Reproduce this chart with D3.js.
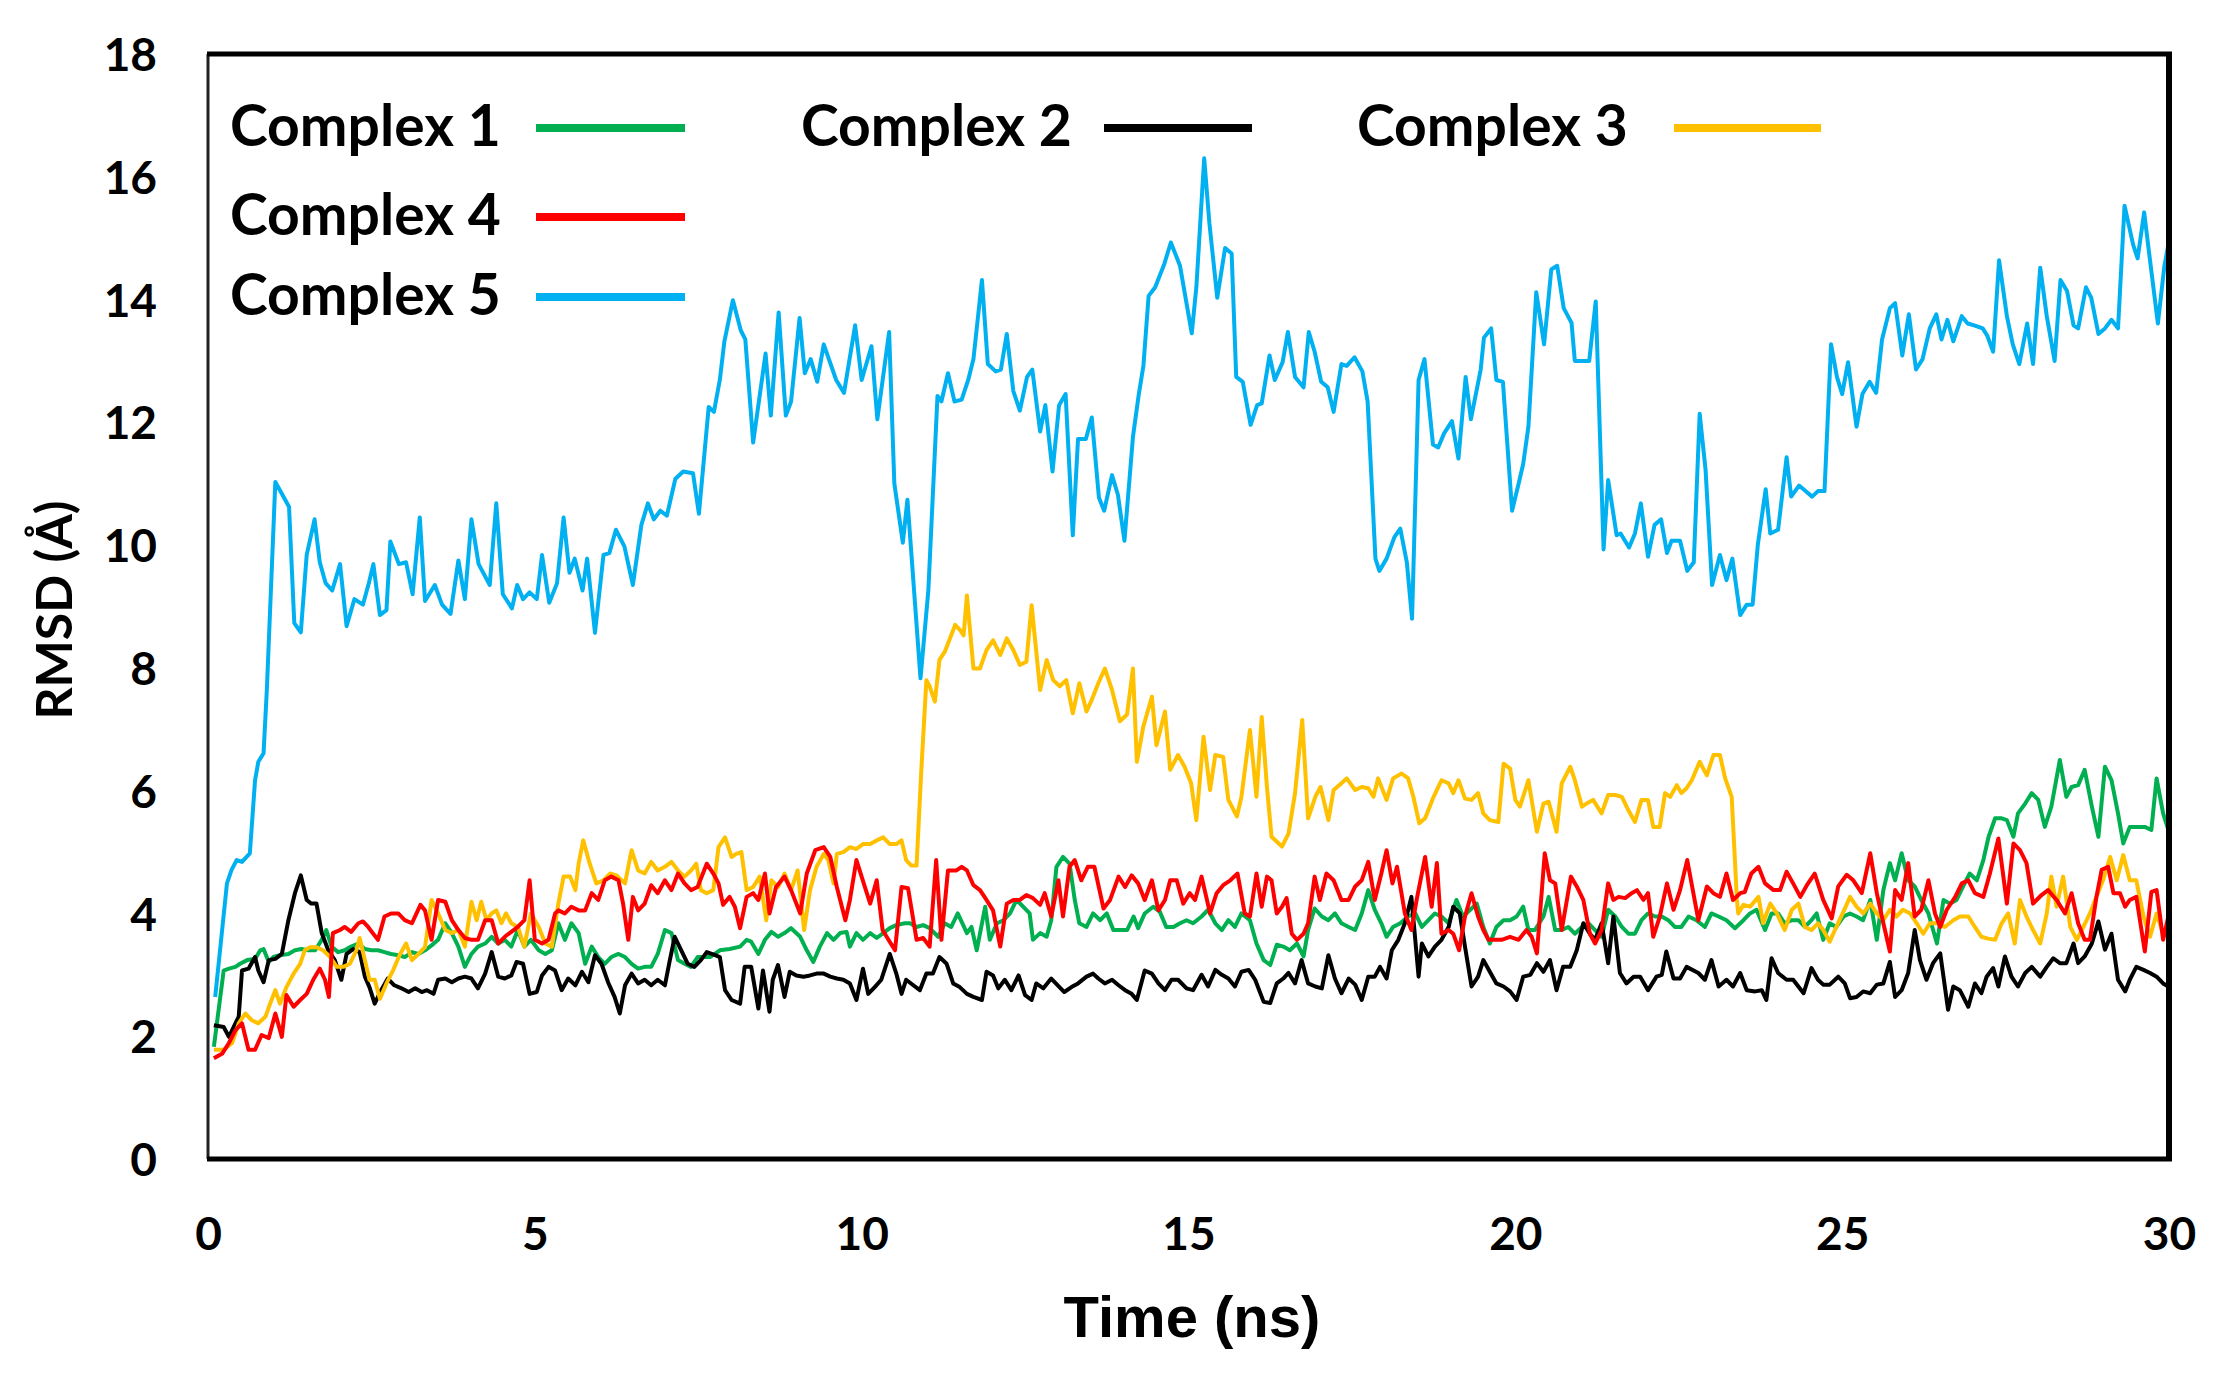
<html>
<head>
<meta charset="utf-8">
<style>
    body { margin: 0; background: white; }
    .tick text { font-family: Lato, "Open Sans", sans-serif; font-weight: 700; font-size: 46px; fill: black; }
    .legend text { font-family: Lato, "Open Sans", sans-serif; font-weight: 700; font-size: 57px; fill: black; }
    .series { fill: none; stroke-width: 4; stroke-linejoin: round; }
</style>
</head>
<body>
<script src="https://cdnjs.cloudflare.com/ajax/libs/d3/7.8.5/d3.min.js"></script>
<script>
    // time in ns, RMSD in angstrom
    var complex1 = [[0.09,1.83],[0.24,3.07],[0.32,3.1],[0.42,3.13],[0.49,3.18],[0.6,3.24],[0.72,3.26],[0.8,3.4],[0.85,3.42],[0.93,3.21],[1.0,3.29],[1.1,3.32],[1.23,3.34],[1.33,3.4],[1.43,3.42],[1.53,3.4],[1.64,3.4],[1.74,3.57],[1.81,3.73],[1.89,3.46],[1.99,3.37],[2.09,3.4],[2.19,3.46],[2.3,3.51],[2.4,3.42],[2.5,3.4],[2.6,3.4],[2.7,3.37],[2.8,3.34],[2.91,3.32],[3.01,3.29],[3.12,3.37],[3.22,3.34],[3.32,3.4],[3.42,3.48],[3.52,3.57],[3.63,3.84],[3.73,3.68],[3.83,3.46],[3.93,3.13],[4.03,3.34],[4.13,3.46],[4.24,3.51],[4.34,3.62],[4.44,3.51],[4.54,3.57],[4.64,3.46],[4.74,3.73],[4.84,3.46],[4.94,3.57],[5.06,3.4],[5.16,3.34],[5.26,3.4],[5.36,3.84],[5.46,3.57],[5.56,3.84],[5.67,3.68],[5.77,3.18],[5.87,3.46],[5.97,3.29],[6.07,3.18],[6.17,3.29],[6.28,3.34],[6.38,3.29],[6.48,3.18],[6.58,3.1],[6.68,3.13],[6.78,3.13],[6.88,3.34],[6.99,3.73],[7.09,3.68],[7.19,3.24],[7.29,3.18],[7.39,3.13],[7.49,3.29],[7.68,3.29],[7.83,3.4],[7.98,3.42],[8.14,3.46],[8.24,3.57],[8.31,3.54],[8.42,3.34],[8.52,3.57],[8.62,3.7],[8.72,3.62],[8.82,3.68],[8.92,3.76],[9.06,3.62],[9.16,3.4],[9.26,3.21],[9.36,3.46],[9.47,3.68],[9.57,3.57],[9.67,3.68],[9.77,3.7],[9.82,3.46],[9.92,3.68],[10.02,3.57],[10.13,3.68],[10.23,3.6],[10.33,3.68],[10.43,3.76],[10.53,3.81],[10.66,3.84],[10.74,3.84],[10.84,3.78],[10.94,3.81],[11.04,3.76],[11.17,3.62],[11.27,3.84],[11.37,3.78],[11.47,4.0],[11.61,3.68],[11.68,3.78],[11.76,3.4],[11.89,4.11],[11.96,3.57],[12.07,3.84],[12.17,3.89],[12.27,4.0],[12.37,4.22],[12.47,4.11],[12.57,4.0],[12.62,3.57],[12.73,3.68],[12.83,3.62],[12.9,3.89],[12.98,4.76],[13.08,4.92],[13.18,4.81],[13.26,4.22],[13.33,3.84],[13.44,3.78],[13.54,4.0],[13.65,3.89],[13.75,4.0],[13.85,3.73],[13.95,3.73],[14.06,3.73],[14.16,3.95],[14.23,3.76],[14.33,4.0],[14.46,4.11],[14.56,4.03],[14.66,3.78],[14.77,3.78],[14.87,3.84],[14.97,3.89],[15.07,3.84],[15.2,3.95],[15.3,4.06],[15.41,3.84],[15.51,3.73],[15.61,3.89],[15.71,3.78],[15.81,4.0],[15.94,3.89],[16.04,3.51],[16.15,3.24],[16.25,3.16],[16.35,3.49],[16.45,3.46],[16.55,3.4],[16.66,3.51],[16.76,3.3],[16.83,3.73],[16.93,4.08],[17.04,3.95],[17.14,3.89],[17.24,4.0],[17.34,3.84],[17.45,3.78],[17.55,3.73],[17.65,4.0],[17.75,4.38],[17.85,4.06],[17.95,3.84],[18.03,3.62],[18.13,3.78],[18.24,3.84],[18.36,3.95],[18.47,4.0],[18.57,3.78],[18.67,3.89],[18.77,4.0],[18.87,3.95],[18.98,3.84],[19.1,4.22],[19.2,3.95],[19.31,4.06],[19.41,4.16],[19.51,3.78],[19.61,3.51],[19.71,3.78],[19.82,3.89],[19.92,3.89],[20.02,3.95],[20.12,4.11],[20.2,3.73],[20.3,3.73],[20.43,3.95],[20.51,4.27],[20.61,3.73],[20.71,3.73],[20.81,3.78],[20.91,3.67],[21.02,3.78],[21.12,3.84],[21.22,3.73],[21.32,3.62],[21.42,4.06],[21.53,3.95],[21.63,3.78],[21.73,3.67],[21.83,3.67],[21.93,3.89],[22.03,4.0],[22.14,3.95],[22.24,3.95],[22.34,3.89],[22.44,3.78],[22.54,3.78],[22.65,3.95],[22.77,3.89],[22.9,3.78],[23.0,4.0],[23.11,3.95],[23.23,3.89],[23.36,3.76],[23.49,3.89],[23.59,4.0],[23.69,4.06],[23.82,3.73],[23.92,4.0],[24.02,4.0],[24.12,3.84],[24.23,3.89],[24.33,3.89],[24.43,3.78],[24.53,3.89],[24.61,4.0],[24.71,3.57],[24.81,3.84],[24.91,3.78],[25.02,3.95],[25.12,4.0],[25.22,3.95],[25.32,3.89],[25.43,4.22],[25.53,3.57],[25.63,4.38],[25.73,4.82],[25.81,4.54],[25.91,4.98],[26.01,4.54],[26.11,4.44],[26.21,4.22],[26.32,4.0],[26.45,3.51],[26.55,4.22],[26.65,4.16],[26.75,4.22],[26.85,4.44],[26.95,4.65],[27.06,4.54],[27.16,4.87],[27.24,5.25],[27.34,5.55],[27.44,5.55],[27.52,5.52],[27.62,5.25],[27.69,5.63],[27.8,5.79],[27.9,5.96],[28.0,5.85],[28.1,5.41],[28.2,5.74],[28.33,6.5],[28.43,5.9],[28.51,6.06],[28.61,6.09],[28.71,6.34],[28.82,5.74],[28.92,5.25],[29.02,6.39],[29.12,6.17],[29.22,5.63],[29.3,5.14],[29.4,5.41],[29.53,5.41],[29.63,5.41],[29.73,5.36],[29.81,6.2],[29.91,5.63],[29.99,5.36]];

    var complex2 = [[0.09,2.18],[0.24,2.15],[0.32,1.99],[0.47,2.32],[0.52,3.07],[0.62,3.1],[0.72,3.29],[0.77,3.07],[0.85,2.88],[0.93,3.24],[1.03,3.26],[1.13,3.34],[1.23,3.89],[1.33,4.33],[1.42,4.62],[1.51,4.22],[1.58,4.16],[1.66,4.16],[1.74,3.68],[1.84,3.4],[1.94,3.24],[2.04,2.92],[2.12,3.34],[2.22,3.42],[2.32,3.37],[2.4,2.97],[2.47,2.8],[2.55,2.53],[2.65,2.75],[2.75,2.94],[2.85,2.83],[2.96,2.78],[3.07,2.72],[3.17,2.78],[3.27,2.72],[3.35,2.75],[3.45,2.69],[3.52,2.92],[3.63,2.94],[3.73,2.88],[3.83,2.94],[3.93,2.97],[4.03,2.94],[4.13,2.78],[4.24,3.02],[4.34,3.37],[4.44,2.97],[4.54,2.94],[4.64,2.99],[4.72,3.21],[4.82,3.18],[4.92,2.69],[5.03,2.72],[5.11,2.99],[5.21,3.13],[5.31,3.07],[5.41,2.75],[5.51,2.94],[5.62,2.83],[5.72,3.05],[5.82,2.88],[5.92,3.32],[6.02,3.18],[6.12,2.88],[6.22,2.64],[6.3,2.37],[6.38,2.83],[6.48,3.02],[6.58,2.86],[6.68,2.92],[6.78,2.83],[6.88,2.92],[6.99,2.83],[7.06,3.21],[7.14,3.62],[7.24,3.4],[7.34,3.18],[7.44,3.13],[7.54,3.24],[7.63,3.37],[7.76,3.32],[7.83,3.29],[7.91,2.75],[8.01,2.59],[8.14,2.53],[8.21,3.13],[8.31,3.13],[8.42,2.45],[8.49,3.07],[8.59,2.4],[8.64,2.92],[8.72,3.16],[8.82,2.64],[8.9,3.05],[9.0,2.99],[9.11,2.97],[9.21,2.99],[9.31,3.02],[9.42,3.02],[9.52,2.97],[9.62,2.94],[9.72,2.92],[9.82,2.86],[9.92,2.59],[10.02,3.1],[10.1,2.69],[10.2,2.8],[10.3,2.92],[10.43,3.34],[10.53,3.02],[10.61,2.69],[10.68,2.92],[10.79,2.83],[10.89,2.75],[10.99,3.02],[11.09,3.02],[11.19,3.29],[11.3,3.18],[11.4,2.86],[11.5,2.8],[11.61,2.69],[11.71,2.64],[11.84,2.59],[11.91,3.05],[12.01,2.99],[12.09,2.78],[12.19,2.92],[12.29,2.75],[12.4,2.99],[12.5,2.67],[12.6,2.59],[12.67,2.86],[12.78,2.78],[12.9,2.94],[13.0,2.83],[13.1,2.72],[13.21,2.8],[13.31,2.86],[13.44,2.97],[13.54,3.02],[13.62,2.94],[13.72,2.86],[13.83,2.92],[13.93,2.83],[14.03,2.75],[14.13,2.69],[14.21,2.59],[14.33,3.07],[14.44,3.02],[14.54,2.86],[14.64,2.75],[14.74,2.92],[14.84,2.92],[14.97,2.78],[15.07,2.75],[15.2,3.0],[15.3,2.81],[15.41,3.08],[15.51,3.0],[15.61,2.94],[15.71,2.81],[15.81,3.05],[15.92,3.08],[16.02,2.92],[16.15,2.56],[16.25,2.54],[16.35,2.86],[16.45,2.94],[16.53,3.03],[16.63,2.86],[16.73,3.24],[16.83,2.86],[16.94,2.81],[17.04,2.78],[17.14,3.32],[17.24,2.94],[17.34,2.7],[17.45,2.94],[17.55,2.84],[17.65,2.59],[17.75,2.97],[17.85,2.97],[17.93,3.13],[18.03,2.94],[18.11,3.4],[18.21,3.57],[18.31,3.84],[18.41,4.27],[18.52,2.97],[18.57,3.51],[18.67,3.3],[18.77,3.46],[18.87,3.57],[18.98,3.78],[19.05,4.11],[19.15,4.0],[19.23,3.46],[19.33,2.81],[19.43,2.97],[19.51,3.24],[19.61,3.05],[19.71,2.86],[19.82,2.81],[19.92,2.73],[20.02,2.59],[20.12,2.97],[20.23,3.0],[20.33,3.19],[20.43,3.05],[20.53,3.24],[20.63,2.75],[20.73,3.13],[20.84,3.13],[20.94,3.4],[21.04,3.84],[21.14,3.67],[21.22,3.57],[21.32,3.84],[21.42,3.19],[21.5,3.95],[21.6,3.03],[21.7,2.86],[21.81,2.97],[21.91,2.97],[22.03,2.75],[22.16,2.97],[22.24,3.0],[22.31,3.38],[22.42,2.94],[22.52,2.94],[22.62,3.13],[22.8,3.03],[22.9,2.92],[23.0,3.24],[23.11,2.81],[23.23,2.92],[23.33,2.81],[23.44,3.03],[23.54,2.75],[23.67,2.73],[23.77,2.75],[23.84,2.59],[23.92,3.27],[24.02,3.03],[24.15,2.92],[24.25,2.92],[24.41,2.7],[24.53,3.11],[24.63,2.92],[24.71,2.84],[24.81,2.84],[24.94,2.97],[25.04,2.86],[25.12,2.62],[25.22,2.64],[25.32,2.73],[25.43,2.7],[25.53,2.84],[25.63,2.86],[25.73,3.21],[25.81,2.64],[25.91,2.75],[26.01,3.03],[26.11,3.73],[26.19,3.24],[26.29,2.92],[26.39,3.19],[26.5,3.35],[26.62,2.43],[26.7,2.81],[26.8,2.75],[26.93,2.48],[27.03,2.86],[27.13,2.7],[27.21,2.97],[27.31,3.11],[27.39,2.81],[27.49,3.3],[27.59,2.97],[27.69,2.81],[27.8,3.03],[27.9,3.13],[28.03,2.97],[28.13,3.13],[28.23,3.27],[28.33,3.19],[28.43,3.19],[28.54,3.51],[28.61,3.19],[28.71,3.3],[28.82,3.51],[28.92,3.87],[29.02,3.41],[29.12,3.67],[29.22,2.92],[29.33,2.73],[29.4,2.92],[29.5,3.13],[29.61,3.08],[29.71,3.03],[29.81,2.97],[29.91,2.86],[29.99,2.81]];

    var complex3 = [[0.09,1.78],[0.24,1.78],[0.37,1.89],[0.47,2.21],[0.57,2.37],[0.67,2.26],[0.77,2.21],[0.88,2.32],[0.95,2.53],[1.03,2.75],[1.1,2.53],[1.2,2.8],[1.31,3.02],[1.41,3.18],[1.48,3.4],[1.56,3.45],[1.66,3.45],[1.76,3.4],[1.87,3.29],[1.97,3.13],[2.07,3.13],[2.17,3.18],[2.27,3.4],[2.32,3.6],[2.4,3.24],[2.47,2.92],[2.55,2.92],[2.63,2.61],[2.73,2.86],[2.83,3.07],[2.93,3.32],[3.03,3.51],[3.12,3.24],[3.22,3.34],[3.32,3.45],[3.42,4.22],[3.52,4.0],[3.63,3.73],[3.73,3.68],[3.83,3.73],[3.93,3.46],[4.03,4.19],[4.11,3.89],[4.18,4.19],[4.26,3.89],[4.34,4.0],[4.41,4.05],[4.49,3.84],[4.56,4.0],[4.64,3.84],[4.74,3.78],[4.84,3.46],[4.94,4.0],[5.06,3.78],[5.16,3.51],[5.26,3.46],[5.36,4.16],[5.44,4.6],[5.54,4.6],[5.62,4.38],[5.67,4.81],[5.74,5.19],[5.84,4.81],[5.94,4.49],[6.05,4.54],[6.15,4.65],[6.25,4.62],[6.38,4.49],[6.48,5.03],[6.58,4.7],[6.68,4.65],[6.78,4.84],[6.88,4.7],[6.99,4.76],[7.09,4.84],[7.19,4.7],[7.29,4.6],[7.39,4.7],[7.47,4.81],[7.54,4.38],[7.63,4.33],[7.73,4.38],[7.81,5.08],[7.91,5.24],[8.01,4.92],[8.08,4.97],[8.16,5.0],[8.24,4.38],[8.34,4.43],[8.44,4.6],[8.54,3.89],[8.62,4.54],[8.72,4.43],[8.82,4.65],[8.92,4.38],[9.02,4.7],[9.12,3.73],[9.21,4.38],[9.31,4.76],[9.42,4.97],[9.49,4.87],[9.57,4.49],[9.62,4.97],[9.72,5.0],[9.82,5.08],[9.92,5.05],[10.02,5.13],[10.13,5.13],[10.23,5.19],[10.33,5.24],[10.43,5.13],[10.53,5.13],[10.61,5.19],[10.68,4.87],[10.76,4.78],[10.84,4.78],[10.91,6.28],[10.99,7.8],[11.04,7.7],[11.12,7.45],[11.19,8.13],[11.27,8.26],[11.34,8.45],[11.43,8.7],[11.51,8.61],[11.56,8.53],[11.61,9.18],[11.71,7.99],[11.81,7.99],[11.91,8.29],[12.01,8.45],[12.12,8.21],[12.22,8.48],[12.32,8.29],[12.42,8.05],[12.52,8.1],[12.6,9.02],[12.73,7.64],[12.83,8.13],[12.93,7.8],[13.03,7.7],[13.13,7.8],[13.23,7.26],[13.33,7.75],[13.44,7.29],[13.52,7.48],[13.62,7.75],[13.72,7.99],[13.83,7.64],[13.95,7.13],[14.06,7.24],[14.15,7.99],[14.21,6.47],[14.31,7.05],[14.44,7.53],[14.51,6.74],[14.64,7.29],[14.72,6.34],[14.84,6.58],[14.94,6.39],[15.04,6.12],[15.12,5.52],[15.23,6.88],[15.33,6.01],[15.41,6.58],[15.53,6.55],[15.61,5.85],[15.74,5.58],[15.81,5.9],[15.94,6.99],[16.04,5.9],[16.12,7.2],[16.2,6.06],[16.27,5.25],[16.43,5.09],[16.53,5.3],[16.63,5.96],[16.74,7.15],[16.83,5.55],[16.94,5.9],[17.02,6.06],[17.14,5.52],[17.22,6.01],[17.34,6.12],[17.42,6.2],[17.55,6.01],[17.65,6.06],[17.75,6.04],[17.83,5.9],[17.9,6.2],[18.03,5.85],[18.13,6.2],[18.26,6.28],[18.36,6.2],[18.44,5.9],[18.53,5.47],[18.62,5.55],[18.75,5.9],[18.87,6.17],[18.98,6.12],[19.05,5.96],[19.13,6.17],[19.23,5.87],[19.33,5.85],[19.43,5.96],[19.51,5.63],[19.61,5.52],[19.74,5.49],[19.82,6.44],[19.92,6.36],[20.0,5.85],[20.07,5.74],[20.2,6.17],[20.33,5.33],[20.43,5.79],[20.51,5.82],[20.63,5.33],[20.71,6.12],[20.84,6.39],[20.91,6.17],[21.02,5.74],[21.09,5.79],[21.19,5.85],[21.32,5.63],[21.42,5.93],[21.53,5.93],[21.63,5.9],[21.73,5.68],[21.83,5.49],[21.93,5.85],[22.03,5.85],[22.11,5.41],[22.21,5.41],[22.29,5.96],[22.37,5.9],[22.47,6.09],[22.54,5.96],[22.62,6.04],[22.7,6.17],[22.82,6.47],[22.93,6.25],[23.03,6.58],[23.13,6.58],[23.21,6.2],[23.31,5.9],[23.39,4.22],[23.41,4.0],[23.49,4.14],[23.59,4.11],[23.72,4.27],[23.79,3.84],[23.9,4.16],[24.0,4.0],[24.12,3.73],[24.23,4.06],[24.33,4.16],[24.43,3.78],[24.53,3.73],[24.63,3.84],[24.71,3.73],[24.81,3.54],[24.91,3.78],[25.02,4.03],[25.12,4.27],[25.22,4.11],[25.32,4.0],[25.43,4.16],[25.53,4.0],[25.63,3.89],[25.73,4.06],[25.83,3.95],[25.93,4.06],[26.04,4.0],[26.14,3.84],[26.24,3.67],[26.34,3.84],[26.47,3.84],[26.57,3.78],[26.7,3.89],[26.8,3.95],[26.93,3.95],[27.03,3.78],[27.13,3.62],[27.23,3.59],[27.34,3.57],[27.44,3.84],[27.54,4.0],[27.64,3.51],[27.72,4.22],[27.82,3.95],[27.92,3.73],[28.03,3.51],[28.13,4.0],[28.2,4.6],[28.28,4.11],[28.38,4.6],[28.49,3.78],[28.59,3.57],[28.69,3.78],[28.79,4.0],[28.87,4.22],[28.99,4.54],[29.1,4.92],[29.2,4.54],[29.3,4.95],[29.4,4.54],[29.5,4.54],[29.61,3.95],[29.71,3.62],[29.81,4.0],[29.91,3.67],[29.99,3.73]];

    var complex4 = [[0.09,1.64],[0.22,1.72],[0.32,1.89],[0.42,2.1],[0.52,2.21],[0.62,1.78],[0.72,1.78],[0.82,2.02],[0.93,1.97],[1.03,2.37],[1.13,1.99],[1.2,2.67],[1.31,2.48],[1.41,2.59],[1.51,2.69],[1.61,2.92],[1.71,3.1],[1.79,2.92],[1.85,2.64],[1.91,3.68],[2.02,3.73],[2.09,3.78],[2.19,3.7],[2.3,3.84],[2.37,3.87],[2.45,3.78],[2.52,3.68],[2.6,3.57],[2.7,3.95],[2.8,4.0],[2.91,4.0],[3.01,3.89],[3.12,3.84],[3.25,4.14],[3.32,4.05],[3.42,3.57],[3.52,4.22],[3.63,4.19],[3.73,3.89],[3.83,3.73],[3.93,3.6],[4.03,3.57],[4.13,3.57],[4.24,3.89],[4.34,3.89],[4.44,3.51],[4.54,3.62],[4.64,3.7],[4.74,3.78],[4.84,3.89],[4.92,4.54],[5.0,3.57],[5.11,3.51],[5.21,3.57],[5.31,4.0],[5.36,4.05],[5.46,4.0],[5.56,4.11],[5.67,4.05],[5.77,4.05],[5.87,4.33],[5.97,4.22],[6.07,4.54],[6.17,4.6],[6.28,4.54],[6.35,4.16],[6.43,3.57],[6.5,4.27],[6.58,4.05],[6.68,4.16],[6.78,4.46],[6.88,4.33],[6.99,4.54],[7.09,4.38],[7.19,4.65],[7.29,4.49],[7.39,4.38],[7.49,4.43],[7.63,4.81],[7.73,4.65],[7.81,4.49],[7.88,4.14],[7.98,4.27],[8.06,4.11],[8.14,3.76],[8.24,4.27],[8.34,4.33],[8.42,4.22],[8.52,4.65],[8.59,4.0],[8.69,4.43],[8.82,4.6],[8.92,4.38],[9.06,4.0],[9.16,4.65],[9.29,5.03],[9.42,5.08],[9.52,4.92],[9.62,4.43],[9.75,3.89],[9.82,4.22],[9.92,4.87],[10.05,4.43],[10.13,4.16],[10.23,4.54],[10.32,3.73],[10.41,3.57],[10.51,3.4],[10.61,4.43],[10.71,4.41],[10.84,3.57],[10.94,3.6],[11.04,3.46],[11.14,4.87],[11.22,3.57],[11.32,4.7],[11.45,4.7],[11.53,4.76],[11.61,4.7],[11.71,4.46],[11.81,4.38],[11.91,4.22],[12.01,4.05],[12.12,3.46],[12.22,4.16],[12.32,4.22],[12.42,4.22],[12.52,4.3],[12.62,4.25],[12.73,4.14],[12.8,4.33],[12.9,3.95],[13.01,4.54],[13.08,3.95],[13.18,4.76],[13.26,4.87],[13.36,4.54],[13.46,4.76],[13.56,4.76],[13.7,4.08],[13.8,4.22],[13.93,4.6],[14.03,4.43],[14.13,4.62],[14.23,4.49],[14.33,4.22],[14.44,4.54],[14.54,4.05],[14.64,4.22],[14.72,4.54],[14.82,4.54],[14.92,4.16],[15.02,4.33],[15.1,4.22],[15.2,4.6],[15.33,4.0],[15.43,4.33],[15.53,4.46],[15.64,4.54],[15.75,4.65],[15.86,4.0],[15.94,3.95],[16.04,4.65],[16.12,4.11],[16.2,4.6],[16.27,4.54],[16.35,4.0],[16.43,4.11],[16.5,4.25],[16.58,3.67],[16.66,3.57],[16.76,3.67],[16.83,3.84],[16.93,4.6],[17.01,4.22],[17.11,4.65],[17.22,4.54],[17.34,4.22],[17.45,4.22],[17.55,4.44],[17.65,4.54],[17.75,4.84],[17.85,4.22],[17.95,4.65],[18.03,5.03],[18.12,4.49],[18.19,4.76],[18.31,4.0],[18.41,3.73],[18.49,4.22],[18.62,4.92],[18.72,4.11],[18.8,4.82],[18.87,3.67],[18.98,3.73],[19.05,3.67],[19.14,3.4],[19.23,3.95],[19.33,4.33],[19.43,3.95],[19.51,3.73],[19.59,3.57],[19.69,3.57],[19.79,3.57],[19.92,3.62],[20.05,3.57],[20.17,3.73],[20.25,3.62],[20.33,3.35],[20.45,4.98],[20.53,4.54],[20.61,4.49],[20.71,3.73],[20.85,4.6],[20.94,4.44],[21.04,4.22],[21.14,3.67],[21.22,3.51],[21.32,3.73],[21.42,4.49],[21.5,4.22],[21.58,4.27],[21.68,4.25],[21.78,4.33],[21.86,4.38],[21.96,4.22],[22.03,4.33],[22.11,3.62],[22.21,3.95],[22.32,4.49],[22.42,4.06],[22.52,4.38],[22.63,4.87],[22.8,3.89],[22.93,4.44],[23.03,4.33],[23.13,4.27],[23.23,4.65],[23.33,4.22],[23.44,4.33],[23.51,4.35],[23.61,4.65],[23.72,4.76],[23.82,4.49],[23.95,4.38],[24.05,4.38],[24.15,4.68],[24.25,4.49],[24.36,4.27],[24.46,4.46],[24.58,4.65],[24.71,4.22],[24.84,3.92],[24.94,4.44],[25.07,4.63],[25.17,4.54],[25.3,4.33],[25.43,4.98],[25.53,4.33],[25.63,3.84],[25.73,3.38],[25.81,4.38],[25.91,4.22],[26.01,4.82],[26.11,3.95],[26.21,4.06],[26.32,4.54],[26.42,4.0],[26.5,3.78],[26.6,4.06],[26.73,4.27],[26.83,4.49],[26.93,4.54],[27.03,4.33],[27.16,4.27],[27.26,4.65],[27.39,5.22],[27.52,4.16],[27.62,5.14],[27.72,5.03],[27.82,4.82],[27.92,4.16],[28.05,4.3],[28.15,4.38],[28.28,4.22],[28.41,4.0],[28.51,4.33],[28.61,3.84],[28.71,3.57],[28.79,3.57],[28.89,4.27],[28.97,4.71],[29.07,4.76],[29.15,4.33],[29.25,4.33],[29.33,4.11],[29.4,4.22],[29.5,4.27],[29.63,3.38],[29.73,4.35],[29.81,4.38],[29.91,3.57],[29.99,3.95]];

    var complex5 = [[0.11,2.64],[0.29,4.49],[0.36,4.71],[0.44,4.87],[0.52,4.84],[0.64,4.98],[0.72,6.17],[0.77,6.47],[0.85,6.61],[0.9,7.64],[1.03,11.03],[1.17,10.76],[1.24,10.62],[1.32,8.73],[1.42,8.58],[1.51,9.84],[1.63,10.42],[1.71,9.72],[1.8,9.38],[1.9,9.26],[2.02,9.69],[2.12,8.68],[2.24,9.12],[2.37,9.03],[2.46,9.38],[2.53,9.69],[2.63,8.86],[2.73,8.94],[2.79,10.06],[2.92,9.69],[3.03,9.72],[3.13,9.2],[3.24,10.45],[3.32,9.09],[3.47,9.35],[3.58,9.03],[3.71,8.88],[3.83,9.75],[3.93,9.12],[4.03,10.42],[4.14,9.69],[4.31,9.35],[4.41,10.68],[4.51,9.2],[4.65,8.97],[4.73,9.35],[4.82,9.12],[4.92,9.23],[5.03,9.12],[5.11,9.84],[5.22,9.06],[5.34,9.38],[5.44,10.45],[5.53,9.55],[5.61,9.78],[5.73,9.26],[5.8,9.78],[5.92,8.57],[6.05,9.84],[6.14,9.87],[6.24,10.25],[6.37,9.98],[6.5,9.35],[6.63,10.33],[6.73,10.68],[6.82,10.42],[6.92,10.56],[7.02,10.48],[7.15,11.08],[7.27,11.2],[7.42,11.17],[7.51,10.51],[7.66,12.25],[7.74,12.17],[7.83,12.69],[7.9,13.32],[8.03,13.99],[8.15,13.5],[8.22,13.35],[8.34,11.67],[8.53,13.12],[8.61,12.11],[8.73,13.79],[8.84,12.11],[8.92,12.34],[9.05,13.7],[9.13,12.8],[9.22,13.03],[9.32,12.66],[9.42,13.27],[9.61,12.69],[9.73,12.48],[9.9,13.58],[10.0,12.69],[10.15,13.24],[10.24,12.05],[10.42,13.47],[10.5,11.0],[10.63,10.04],[10.7,10.74],[10.9,7.83],[11.02,9.26],[11.16,12.43],[11.22,12.34],[11.32,12.8],[11.42,12.34],[11.53,12.37],[11.63,12.69],[11.71,13.03],[11.84,14.32],[11.93,12.95],[12.05,12.83],[12.13,12.86],[12.22,13.44],[12.32,12.51],[12.42,12.19],[12.53,12.74],[12.61,12.86],[12.73,11.85],[12.81,12.28],[12.92,11.2],[13.02,12.28],[13.12,12.46],[13.23,10.16],[13.31,11.73],[13.43,11.73],[13.52,12.08],[13.63,10.77],[13.71,10.56],[13.83,11.14],[13.92,10.82],[14.02,10.07],[14.15,11.76],[14.24,12.46],[14.31,12.92],[14.39,14.06],[14.49,14.2],[14.63,14.58],[14.73,14.93],[14.87,14.55],[15.05,13.45],[15.12,14.2],[15.24,16.3],[15.32,15.24],[15.44,14.03],[15.56,14.84],[15.66,14.75],[15.73,12.74],[15.83,12.66],[15.95,11.96],[16.05,12.28],[16.12,12.31],[16.24,13.09],[16.32,12.69],[16.44,12.98],[16.52,13.47],[16.63,12.74],[16.76,12.57],[16.84,13.47],[16.93,13.15],[17.03,12.66],[17.13,12.57],[17.22,12.17],[17.34,12.95],[17.42,12.92],[17.54,13.06],[17.66,12.83],[17.74,12.34],[17.86,9.78],[17.92,9.58],[18.03,9.78],[18.15,10.13],[18.24,10.27],[18.34,9.72],[18.42,8.8],[18.52,12.69],[18.61,13.03],[18.74,11.64],[18.82,11.59],[18.91,11.82],[19.03,12.02],[19.13,11.41],[19.24,12.74],[19.32,12.05],[19.47,12.86],[19.52,13.38],[19.63,13.53],[19.71,12.69],[19.81,12.66],[19.95,10.56],[20.05,11.0],[20.12,11.32],[20.2,11.93],[20.32,14.12],[20.44,13.27],[20.55,14.49],[20.64,14.55],[20.74,13.86],[20.86,13.62],[20.91,13.0],[21.13,13.0],[21.23,13.97],[21.35,9.93],[21.42,11.06],[21.55,10.16],[21.61,10.19],[21.74,9.96],[21.83,10.19],[21.92,10.68],[22.03,9.81],[22.13,10.33],[22.23,10.42],[22.32,9.87],[22.39,10.07],[22.52,10.07],[22.63,9.58],[22.73,9.72],[22.82,12.14],[22.91,11.23],[23.01,9.35],[23.13,9.84],[23.23,9.43],[23.32,9.78],[23.44,8.86],[23.54,9.03],[23.63,9.03],[23.71,10.01],[23.83,10.91],[23.9,10.19],[24.02,10.25],[24.15,11.43],[24.22,10.79],[24.34,10.97],[24.44,10.88],[24.54,10.79],[24.63,10.88],[24.73,10.88],[24.83,13.27],[24.92,12.74],[25.0,12.46],[25.09,12.98],[25.22,11.93],[25.31,12.46],[25.42,12.66],[25.52,12.48],[25.61,13.35],[25.73,13.86],[25.81,13.94],[25.92,13.09],[26.02,13.76],[26.13,12.86],[26.23,13.03],[26.34,13.53],[26.44,13.76],[26.52,13.35],[26.61,13.67],[26.7,13.32],[26.83,13.73],[26.92,13.61],[27.02,13.58],[27.15,13.53],[27.22,13.41],[27.31,13.15],[27.4,14.64],[27.52,13.73],[27.61,13.27],[27.71,12.95],[27.83,13.61],[27.92,12.95],[28.03,14.52],[28.13,13.73],[28.25,13.0],[28.34,14.32],[28.44,14.14],[28.54,13.58],[28.61,13.53],[28.73,14.2],[28.81,14.03],[28.92,13.44],[29.02,13.53],[29.12,13.67],[29.22,13.53],[29.32,15.53],[29.45,14.9],[29.52,14.67],[29.62,15.42],[29.7,14.72],[29.83,13.61],[29.93,14.55],[30.0,14.95]];

    var seriesNames = ["Complex 1", "Complex 2", "Complex 3", "Complex 4", "Complex 5"];
    var seriesData = [complex1, complex2, complex3, complex4, complex5];
    var seriesColors = ["#00b050", "#000000", "#ffc000", "#ff0000", "#00b0f0"];
    var xTicks = [0, 5, 10, 15, 20, 25, 30];
    var yTicks = [0, 2, 4, 6, 8, 10, 12, 14, 16, 18];

    (function () {

        var width = 2229, height = 1374;
        var plotLeft = 208, plotRight = 2169, plotTop = 54, plotBottom = 1159;

        var svg = d3.select("body")
                .append("svg")
                .attr("width", width)
                .attr("height", height)
                .style("background", "white");

        var x = d3.scaleLinear().domain([0, 30]).range([plotLeft, plotRight]);
        var y = d3.scaleLinear().domain([0, 18]).range([plotBottom, plotTop]);

        // axes: labels only, the frame is drawn by hand below
        var yAxis = svg.append("g")
                .attr("transform", "translate(" + plotLeft + ",0)")
                .call(d3.axisLeft(y).tickValues(yTicks).tickSize(0).tickPadding(51));
        yAxis.select(".domain").remove();
        yAxis.selectAll("text").attr("dy", "0.36em");

        var xAxis = svg.append("g")
                .attr("transform", "translate(0," + plotBottom + ")")
                .call(d3.axisBottom(x).tickValues(xTicks).tickSize(0).tickPadding(58));
        xAxis.select(".domain").remove();

        var line = d3.line()
                .x(function (d) { return x(d[0]); })
                .y(function (d) { return y(d[1]); });

        svg.selectAll(".series")
                .data(seriesData)
                .enter()
                .append("path")
                .classed("series", 1)
                .attr("stroke", function (d, i) { return seriesColors[i]; })
                .attr("d", line);

        // plot frame
        svg.append("line").attr("x1", plotLeft).attr("x2", plotLeft).attr("y1", plotTop).attr("y2", plotBottom)
                .attr("stroke", "#222").attr("stroke-width", 3);
        svg.append("line").attr("x1", plotLeft - 1).attr("x2", plotRight + 3).attr("y1", plotTop).attr("y2", plotTop)
                .attr("stroke", "black").attr("stroke-width", 5);
        svg.append("line").attr("x1", plotLeft - 1).attr("x2", plotRight + 3).attr("y1", plotBottom).attr("y2", plotBottom)
                .attr("stroke", "black").attr("stroke-width", 5);
        svg.append("line").attr("x1", plotRight).attr("x2", plotRight).attr("y1", plotTop).attr("y2", plotBottom)
                .attr("stroke", "black").attr("stroke-width", 6);

        // legend
        var legendSpots = [
            {tx: 230, lx1: 536, lx2: 685, ly: 128},
            {tx: 801, lx1: 1104, lx2: 1252, ly: 128},
            {tx: 1357, lx1: 1674, lx2: 1821, ly: 128},
            {tx: 230, lx1: 536, lx2: 685, ly: 217},
            {tx: 230, lx1: 536, lx2: 685, ly: 297}
        ];

        var legend = svg.append("g").classed("legend", 1)
                .selectAll("g")
                .data(seriesNames)
                .enter()
                .append("g");

        legend.append("text")
                .attr("x", function (d, i) { return legendSpots[i].tx; })
                .attr("y", function (d, i) { return legendSpots[i].ly + 18; })
                .text(function (d) { return d; });

        legend.append("line")
                .attr("x1", function (d, i) { return legendSpots[i].lx1; })
                .attr("x2", function (d, i) { return legendSpots[i].lx2; })
                .attr("y1", function (d, i) { return legendSpots[i].ly; })
                .attr("y2", function (d, i) { return legendSpots[i].ly; })
                .attr("stroke", function (d, i) { return seriesColors[i]; })
                .attr("stroke-width", 8);

        // axis titles
        svg.append("text")
                .attr("x", 1192)
                .attr("y", 1337)
                .attr("text-anchor", "middle")
                .style("font-family", "'Liberation Sans', Arial, sans-serif")
                .style("font-weight", 700)
                .style("font-size", "58px")
                .text("Time (ns)");

        svg.append("text")
                .attr("transform", "translate(72,610) rotate(-90)")
                .attr("text-anchor", "middle")
                .style("font-family", "Lato, 'Open Sans', sans-serif")
                .style("font-weight", 700)
                .style("font-size", "50px")
                .text("RMSD (Å)");

    })();
</script>
</body>
</html>
